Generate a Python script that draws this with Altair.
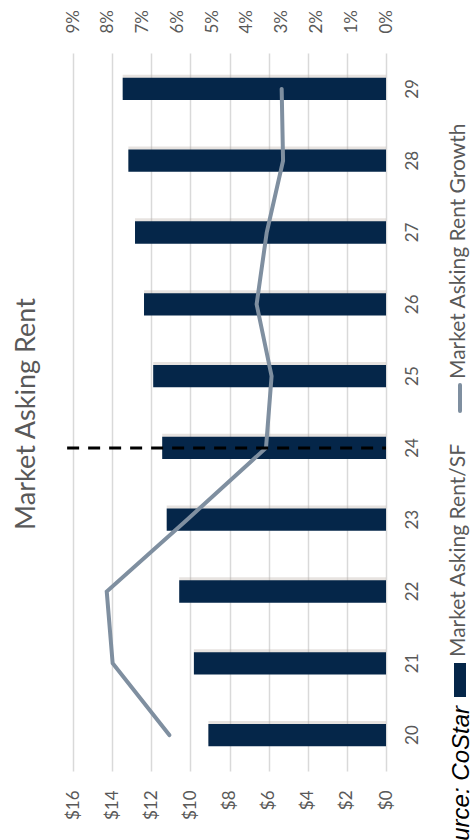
import altair as alt
import pandas as pd

# ---- data ----
years = ["20", "21", "22", "23", "24", "25", "26", "27", "28", "29"]
rent = [9.08, 9.82, 10.57, 11.21, 11.44, 11.90, 12.37, 12.83, 13.17, 13.46]
growth = [6.23, 7.86, 8.03, 5.72, 3.45, 3.29, 3.72, 3.43, 2.96, 3.00]
rent_ticks = [0, 2, 4, 6, 8, 10, 12, 14, 16]
growth_ticks = [0, 1, 2, 3, 4, 5, 6, 7, 8, 9]
forecast_year = ["24"]
forecast_rent_start = [16.3]
title_text = ["Market Asking Rent"]
legend_bar = ["Market Asking Rent/SF"]
legend_line = ["Market Asking Rent Growth"]
source_text = ["Source: CoStar"]

df = pd.DataFrame({"year": years, "rent": rent, "growth": growth,
                   "idx": list(range(len(years)))})
rule_df = pd.DataFrame({"year": forecast_year, "x1": forecast_rent_start, "x2": [0]})

W, H = 313, 718
FONT = "Lato"
GRAY = "#595959"
NAVY = "#052649"
LINEC = "#7f8fa0"

y_enc = alt.Y("year:N",
              scale=alt.Scale(domain=years[::-1], paddingInner=0.69, paddingOuter=0.345),
              axis=alt.Axis(orient="right", title=None, ticks=False, domain=False,
                            labelAngle=270, labelAlign="center", labelBaseline="middle",
                            labelPadding=26, labelFont=FONT, labelFontSize=17,
                            labelColor=GRAY, grid=False))

rent_scale = alt.Scale(domain=[0, 16], reverse=True, nice=False, zero=True)
growth_scale = alt.Scale(domain=[0, 9], reverse=True, nice=False, zero=True)

shadow = alt.Chart(df).mark_bar(color="#b9afa5", opacity=0.35, yOffset=-3).encode(
    x=alt.X("rent:Q", scale=rent_scale, axis=None),
    y=y_enc,
)

bars = alt.Chart(df).mark_bar(color=NAVY).encode(
    x=alt.X("rent:Q", scale=rent_scale,
            axis=alt.Axis(orient="bottom", values=rent_ticks, title=None,
                          labelExpr="'$' + datum.value", labelAngle=270,
                          labelAlign="right", labelBaseline="middle", labelPadding=19,
                          ticks=False, domain=False, grid=True, gridColor="#d9d9d9",
                          gridWidth=1.5, labelFont=FONT, labelFontSize=17,
                          labelColor=GRAY)),
    y=y_enc,
)

line = alt.Chart(df).mark_line(color=LINEC, strokeWidth=4, strokeCap="round").encode(
    x=alt.X("growth:Q", scale=growth_scale,
            axis=alt.Axis(orient="top", values=growth_ticks, title=None,
                          labelExpr="datum.value + '%'", labelAngle=270,
                          labelAlign="left", labelBaseline="middle", labelPadding=20,
                          ticks=False, domain=False, grid=False,
                          labelFont=FONT, labelFontSize=17, labelColor=GRAY)),
    y=y_enc,
    order=alt.Order("idx:Q"),
)

rule = alt.Chart(rule_df).mark_rule(color="black", strokeWidth=3,
                                    strokeDash=[12, 9]).encode(
    x=alt.X("x1:Q", scale=rent_scale, axis=None),
    x2="x2:Q",
    y=y_enc,
)

title = alt.Chart(pd.DataFrame({"t": title_text})).mark_text(
    angle=270, align="center", baseline="middle", font=FONT, fontSize=27,
    color=GRAY).encode(text="t:N", x=alt.value(-46), y=alt.value(361))

leg_line_key = alt.Chart(pd.DataFrame({"t": legend_line})).mark_rule(
    color=LINEC, strokeWidth=4, strokeCap="round").encode(
    x=alt.value(387), y=alt.value(332), y2=alt.value(358))
leg_line_txt = alt.Chart(pd.DataFrame({"t": legend_line})).mark_text(
    angle=270, align="left", baseline="middle", font=FONT, fontSize=21,
    color=GRAY).encode(text="t:N", x=alt.value(386), y=alt.value(326))

leg_bar_key = alt.Chart(pd.DataFrame({"t": legend_bar})).mark_rect(color=NAVY).encode(
    x=alt.value(381), x2=alt.value(393), y=alt.value(610), y2=alt.value(644))
leg_bar_txt = alt.Chart(pd.DataFrame({"t": legend_bar})).mark_text(
    angle=270, align="left", baseline="middle", font=FONT, fontSize=21,
    color=GRAY).encode(text="t:N", x=alt.value(386), y=alt.value(604))

source = alt.Chart(pd.DataFrame({"t": source_text})).mark_text(
    angle=270, align="right", baseline="middle", font="Liberation Sans",
    fontStyle="italic", fontSize=24, color="black").encode(
    text="t:N", x=alt.value(389), y=alt.value(653))

chart = alt.layer(
    shadow, bars, line, rule, title, leg_line_key, leg_line_txt,
    leg_bar_key, leg_bar_txt, source
).resolve_scale(x="independent").properties(
    width=W, height=H,
    autosize=alt.AutoSizeParams(type="none"),
    padding={"left": 73, "top": 53, "right": 470 - 73 - W, "bottom": 840 - 53 - H},
    background="white",
).configure_view(stroke=None)

chart.save("out.html", embed_options={"renderer": "svg", "actions": False})
